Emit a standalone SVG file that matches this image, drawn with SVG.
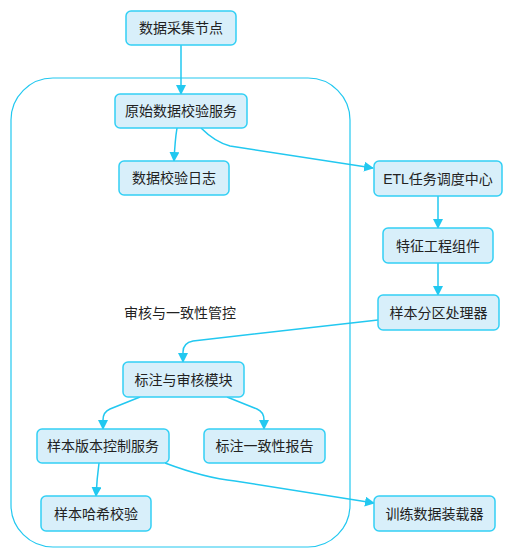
<svg xmlns="http://www.w3.org/2000/svg" width="513" height="558" viewBox="0 0 513 558">
<style>
.node rect{fill:#d8effa;stroke:#33d0f5;stroke-width:1.5}
.node text,.lbl{font-family:"Liberation Sans","Noto Sans CJK SC",sans-serif;font-size:14px;fill:#222;text-anchor:middle;dominant-baseline:central}
.edge{fill:none;stroke:#22c8f0;stroke-width:1.5}
.cluster{fill:none;stroke:#22c8f0;stroke-width:1.2}
</style>
<defs>
<marker id="arr" viewBox="0 0 10 10" refX="9" refY="5" markerWidth="10" markerHeight="10" markerUnits="userSpaceOnUse" orient="auto">
<path d="M0,0 L10,5 L0,10 z" fill="#22c8f0"/>
</marker>
</defs>
<g id="cluster-audit">
<rect class="cluster" x="11" y="78" width="339" height="469" rx="42" ry="42"/>
<text class="lbl" x="180" y="313">审核与一致性管控</text>
</g>
<g id="edges">
<path class="edge" marker-end="url(#arr)" d="M181,45 L181,94"/>
<path class="edge" marker-end="url(#arr)" d="M177,128 Q175,140 174,161"/>
<path class="edge" marker-end="url(#arr)" d="M201,128 Q215,142 230,146 L373,168"/>
<path class="edge" marker-end="url(#arr)" d="M438,196 L438,228"/>
<path class="edge" marker-end="url(#arr)" d="M438,263 L438,295"/>
<path class="edge" marker-end="url(#arr)" d="M378,320 L193,341 Q183,343 183,352 L183,362"/>
<path class="edge" marker-end="url(#arr)" d="M140,397 L110,409 Q103,412 103,420 L103,429"/>
<path class="edge" marker-end="url(#arr)" d="M227,397 L257,409 Q264,412 264,420 L264,429"/>
<path class="edge" marker-end="url(#arr)" d="M99,463 Q97,478 96,496"/>
<path class="edge" marker-end="url(#arr)" d="M165,463 Q205,478 235,481 L374,503"/>
</g>
<g id="n1" class="node"><rect x="126" y="11" width="110" height="34" rx="5"/><text x="181" y="28">数据采集节点</text></g>
<g id="n2" class="node"><rect x="115" y="94" width="132" height="34" rx="5"/><text x="181" y="111">原始数据校验服务</text></g>
<g id="n3" class="node"><rect x="119" y="161" width="110" height="34" rx="5"/><text x="174" y="178">数据校验日志</text></g>
<g id="n4" class="node"><rect x="374" y="161" width="128" height="35" rx="5"/><text x="438" y="178.5">ETL任务调度中心</text></g>
<g id="n5" class="node"><rect x="383" y="228" width="110" height="35" rx="5"/><text x="438" y="245.5">特征工程组件</text></g>
<g id="n6" class="node"><rect x="378" y="295" width="121" height="35" rx="5"/><text x="438.5" y="312.5">样本分区处理器</text></g>
<g id="n7" class="node"><rect x="123" y="362" width="121" height="35" rx="5"/><text x="183.5" y="379.5">标注与审核模块</text></g>
<g id="n8" class="node"><rect x="37" y="429" width="132" height="34" rx="5"/><text x="103" y="446">样本版本控制服务</text></g>
<g id="n9" class="node"><rect x="204" y="429" width="121" height="34" rx="5"/><text x="264.5" y="446">标注一致性报告</text></g>
<g id="n10" class="node"><rect x="41" y="496" width="110" height="35" rx="5"/><text x="96" y="513.5">样本哈希校验</text></g>
<g id="n11" class="node"><rect x="374" y="496" width="121" height="35" rx="5"/><text x="434.5" y="513.5">训练数据装载器</text></g>
</svg>
